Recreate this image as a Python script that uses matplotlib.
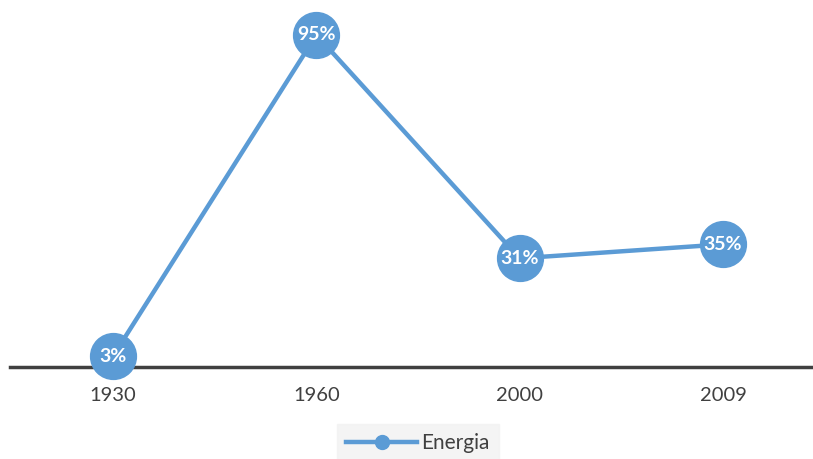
import matplotlib
matplotlib.use("Agg")
import matplotlib.pyplot as plt
from matplotlib.lines import Line2D

# Energia share by year
years = ["1930", "1960", "2000", "2009"]
energia = [3, 95, 31, 35]

blue = "#5B9BD5"

plt.rcParams["font.family"] = ["Lato", "DejaVu Sans"]

fig = plt.figure(figsize=(8.13, 4.59), dpi=100)
ax = fig.add_axes([10 / 813, (459 - 366.5) / 459, 801 / 813, 349 / 459])

x = list(range(len(years)))
ax.plot(x, energia, color=blue, linewidth=3.2, marker="o", markersize=33,
        markerfacecolor=blue, markeredgecolor=blue, label="Energia",
        clip_on=False, zorder=3)

for xi, v in zip(x, energia):
    ax.text(xi, v, f"{v}%", color="white", fontsize=14, fontweight="bold",
            ha="center", va="center", zorder=4)

ax.set_xlim(-0.507, 3.433)
ax.set_ylim(0, 100)
ax.set_xticks(x)
ax.set_xticklabels(years, fontsize=14.5, color="#404040")
ax.tick_params(axis="x", length=0, pad=15)
ax.set_yticks([])

for side in ["top", "right", "left"]:
    ax.spines[side].set_visible(False)
ax.spines["bottom"].set_color("#404040")
ax.spines["bottom"].set_linewidth(2.5)
ax.spines["bottom"].set_zorder(2)

# legend entry with a small marker
handle = Line2D([], [], color=blue, linewidth=3.2, marker="o", markersize=10)
leg = fig.legend([handle], ["Energia"], loc="center", bbox_to_anchor=(418 / 813, 1 - 443 / 459),
                 frameon=True, fontsize=15, handlelength=3.4, handletextpad=0.2,
                 borderpad=0.45, fancybox=False)
leg.get_frame().set_facecolor("#F2F2F2")
leg.get_frame().set_edgecolor("#F2F2F2")
for t in leg.get_texts():
    t.set_color("#404040")

fig.savefig("out.png", dpi=100)
